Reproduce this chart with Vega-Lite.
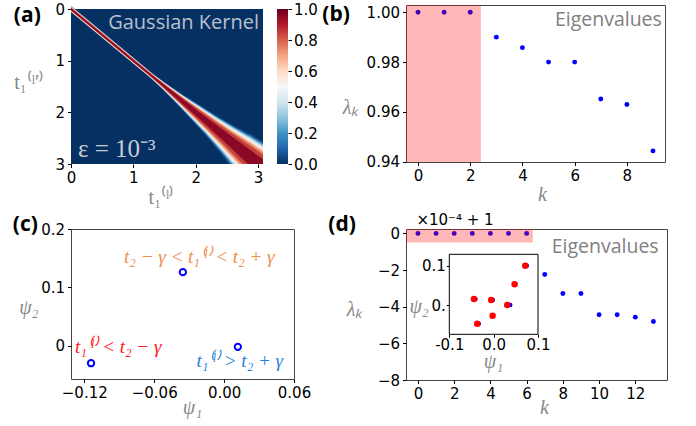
{
"$schema":"https://vega.github.io/schema/vega-lite/v6.json",
"background":"white",
"padding":{"left":12,"top":2,"right":5,"bottom":5},
"config":{
 "view":{"stroke":"#444","strokeWidth":1},
 "axis":{"labelFont":"DejaVu Sans","labelFontSize":15,"labelColor":"#000","labelPadding":3,"labelFlush":false,"labelOverlap":false,"labelBound":false,"tickColor":"#000","tickSize":3.5,"tickWidth":1,"domain":false,"grid":false,"titleFont":"Liberation Serif","titleFontStyle":"italic","titleFontWeight":"normal","titleFontSize":20,"titleColor":"#888888"}
},
"columns":2,
"spacing":{"row":65,"column":112},
"bounds":"flush",
"concat":[
 {"width":192,"height":159,"view":{"stroke":null},
  "resolve":{"scale":{"x":"independent","y":"independent"},"axis":{"x":"independent","y":"independent"}},
  "layer":[
   {"data":{"values":[{}]},"mark":{"type":"rect","fill":"#053061"},
    "encoding":{
     "x":{"datum":0,"type":"quantitative","scale":{"domain":[0,3.08],"nice":false,"zero":false},"axis":{"orient":"bottom","values":[0,1,2,3],"format":"d","title":"t₁⁽ˡ⁾","titleFontStyle":"normal","titleX":90,"titleY":39,"titleBaseline":"alphabetic"}},
     "x2":{"datum":3.08},
     "y":{"datum":0,"type":"quantitative","scale":{"domain":[0,3],"range":[4,159],"nice":false,"zero":false},"axis":{"orient":"left","values":[0,1,2,3],"format":"d","title":"t₁⁽ˡ′⁾","titleFontStyle":"normal","titleAngle":0,"titleAlign":"right","titleBaseline":"middle","titleX":-27,"titleY":77}},
     "y2":{"datum":3}
    }},
   {"data":{"values":[
    {"t":0,"v":0.05,"w":4.9},{"t":1.3,"v":0.05,"w":4.9},{"t":1.5,"v":0.05,"w":7.0},{"t":1.75,"v":0.05,"w":11.2},{"t":2,"v":0.05,"w":16.8},{"t":2.25,"v":0.05,"w":22.4},{"t":2.5,"v":0.05,"w":29.4},{"t":2.75,"v":0.05,"w":37.8},{"t":3,"v":0.05,"w":44.8},{"t":3.15,"v":0.05,"w":49.0},
    {"t":0,"v":0.15,"w":4.6},{"t":1.3,"v":0.15,"w":4.6},{"t":1.5,"v":0.15,"w":6.5},{"t":1.75,"v":0.15,"w":10.4},{"t":2,"v":0.15,"w":15.6},{"t":2.25,"v":0.15,"w":20.8},{"t":2.5,"v":0.15,"w":27.3},{"t":2.75,"v":0.15,"w":35.1},{"t":3,"v":0.15,"w":41.6},{"t":3.15,"v":0.15,"w":45.5},
    {"t":0,"v":0.25,"w":4.3},{"t":1.3,"v":0.25,"w":4.3},{"t":1.5,"v":0.25,"w":6.1},{"t":1.75,"v":0.25,"w":9.8},{"t":2,"v":0.25,"w":14.6},{"t":2.25,"v":0.25,"w":19.5},{"t":2.5,"v":0.25,"w":25.6},{"t":2.75,"v":0.25,"w":32.9},{"t":3,"v":0.25,"w":39.0},{"t":3.15,"v":0.25,"w":42.7},
    {"t":0,"v":0.35,"w":4.0},{"t":1.3,"v":0.35,"w":4.0},{"t":1.5,"v":0.35,"w":5.8},{"t":1.75,"v":0.35,"w":9.2},{"t":2,"v":0.35,"w":13.8},{"t":2.25,"v":0.35,"w":18.4},{"t":2.5,"v":0.35,"w":24.2},{"t":2.75,"v":0.35,"w":31.1},{"t":3,"v":0.35,"w":36.8},{"t":3.15,"v":0.35,"w":40.3},
    {"t":0,"v":0.45,"w":3.7},{"t":1.3,"v":0.45,"w":3.7},{"t":1.5,"v":0.45,"w":5.4},{"t":1.75,"v":0.45,"w":8.6},{"t":2,"v":0.45,"w":12.8},{"t":2.25,"v":0.45,"w":17.1},{"t":2.5,"v":0.45,"w":22.5},{"t":2.75,"v":0.45,"w":28.9},{"t":3,"v":0.45,"w":34.2},{"t":3.15,"v":0.45,"w":37.5},
    {"t":0,"v":0.55,"w":3.4},{"t":1.3,"v":0.55,"w":3.4},{"t":1.5,"v":0.55,"w":4.9},{"t":1.75,"v":0.55,"w":7.8},{"t":2,"v":0.55,"w":11.8},{"t":2.25,"v":0.55,"w":15.7},{"t":2.5,"v":0.55,"w":20.6},{"t":2.75,"v":0.55,"w":26.5},{"t":3,"v":0.55,"w":31.4},{"t":3.15,"v":0.55,"w":34.3},
    {"t":0,"v":0.65,"w":3.2},{"t":1.3,"v":0.65,"w":3.2},{"t":1.5,"v":0.65,"w":4.5},{"t":1.75,"v":0.65,"w":7.2},{"t":2,"v":0.65,"w":10.8},{"t":2.25,"v":0.65,"w":14.4},{"t":2.5,"v":0.65,"w":18.9},{"t":2.75,"v":0.65,"w":24.3},{"t":3,"v":0.65,"w":28.8},{"t":3.15,"v":0.65,"w":31.5},
    {"t":0,"v":0.75,"w":2.8},{"t":1.3,"v":0.75,"w":2.8},{"t":1.5,"v":0.75,"w":4.0},{"t":1.75,"v":0.75,"w":6.4},{"t":2,"v":0.75,"w":9.6},{"t":2.25,"v":0.75,"w":12.8},{"t":2.5,"v":0.75,"w":16.8},{"t":2.75,"v":0.75,"w":21.6},{"t":3,"v":0.75,"w":25.6},{"t":3.15,"v":0.75,"w":28.0},
    {"t":0,"v":0.85,"w":2.3},{"t":1.3,"v":0.85,"w":2.3},{"t":1.5,"v":0.85,"w":3.3},{"t":1.75,"v":0.85,"w":5.3},{"t":2,"v":0.85,"w":7.9},{"t":2.25,"v":0.85,"w":10.6},{"t":2.5,"v":0.85,"w":13.9},{"t":2.75,"v":0.85,"w":17.8},{"t":3,"v":0.85,"w":21.1},{"t":3.15,"v":0.85,"w":23.1},
    {"t":0,"v":0.95,"w":1.5},{"t":1.3,"v":0.95,"w":1.5},{"t":1.5,"v":0.95,"w":2.1},{"t":1.75,"v":0.95,"w":3.4},{"t":2,"v":0.95,"w":5.0},{"t":2.25,"v":0.95,"w":6.7},{"t":2.5,"v":0.95,"w":8.8},{"t":2.75,"v":0.95,"w":11.3},{"t":3,"v":0.95,"w":13.4},{"t":3.15,"v":0.95,"w":14.7}
   ]},
    "mark":{"type":"trail","clip":true},
    "encoding":{
     "x":{"field":"t","type":"quantitative","scale":{"domain":[0,3.08],"nice":false,"zero":false},"axis":null},
     "y":{"field":"t","type":"quantitative","scale":{"domain":[0,3],"range":[4,159],"nice":false,"zero":false},"axis":null},
     "color":{"field":"v","type":"quantitative","scale":{"domain":[0,0.1,0.2,0.3,0.4,0.5,0.6,0.7,0.8,0.9,1],"range":["#053061","#2166ac","#4393c3","#92c5de","#d1e5f0","#f7f7f7","#fddbc7","#f4a582","#d6604d","#b2182b","#67001f"]},"legend":null},
     "size":{"field":"w","type":"quantitative","scale":{"domain":[0,60],"range":[0,60]},"legend":null},
     "detail":{"field":"v","type":"nominal"}
    }},
   {"data":{"values":[{}]},"mark":{"type":"text","text":"Gaussian Kernel","align":"right","baseline":"alphabetic","font":"Open Sans","fontSize":20,"color":"#b8c0cc"},
    "encoding":{"x":{"datum":3.016,"type":"quantitative","scale":{"domain":[0,3.08],"nice":false,"zero":false},"axis":null},"y":{"datum":0.393,"type":"quantitative","scale":{"domain":[0,3],"range":[4,159],"nice":false,"zero":false},"axis":null}}},
   {"data":{"values":[{}]},"mark":{"type":"text","text":"ε = 10⁻³","align":"left","baseline":"alphabetic","font":"Liberation Serif","fontSize":25,"color":"#c8ccd4"},
    "encoding":{"x":{"datum":0.112,"type":"quantitative","scale":{"domain":[0,3.08],"nice":false,"zero":false},"axis":null},"y":{"datum":2.858,"type":"quantitative","scale":{"domain":[0,3],"range":[4,159],"nice":false,"zero":false},"axis":null}}},
   {"data":{"values":[{}]},"mark":{"type":"text","text":"(a)","align":"center","baseline":"alphabetic","font":"Open Sans","fontWeight":"bold","fontSize":21,"color":"#000"},
    "encoding":{"x":{"datum":-0.701,"type":"quantitative","scale":{"domain":[0,3.08],"nice":false,"zero":false},"axis":null},"y":{"datum":0.252,"type":"quantitative","scale":{"domain":[0,3],"range":[4,159],"nice":false,"zero":false},"axis":null}}},
   {"data":{"values":[{}]},"mark":{"type":"rect","fill":{"gradient":"linear","x1":0,"y1":1,"x2":0,"y2":0,"stops":[{"offset":0,"color":"#053061"},{"offset":0.1,"color":"#2166ac"},{"offset":0.2,"color":"#4393c3"},{"offset":0.3,"color":"#92c5de"},{"offset":0.4,"color":"#d1e5f0"},{"offset":0.5,"color":"#f7f7f7"},{"offset":0.6,"color":"#fddbc7"},{"offset":0.7,"color":"#f4a582"},{"offset":0.8,"color":"#d6604d"},{"offset":0.9,"color":"#b2182b"},{"offset":1,"color":"#67001f"}]}},
    "encoding":{
     "x":{"datum":0,"type":"quantitative","scale":{"domain":[0,1],"range":[206,217],"nice":false,"zero":false},"axis":null},
     "x2":{"datum":1},
     "y":{"datum":0,"type":"quantitative","scale":{"domain":[0,1],"range":[159,4],"nice":false,"zero":false},"axis":{"orient":"right","offset":25,"values":[0,0.2,0.4,0.6,0.8,1],"format":".1f","title":null,"labelPadding":2}},
     "y2":{"datum":1}
    }}
  ]},
 {"width":259,"height":157,
  "layer":[
   {"data":{"values":[{"k":0,"lam":1.0},{"k":1,"lam":1.0},{"k":2,"lam":1.0},{"k":3,"lam":0.990},{"k":4,"lam":0.9858},{"k":5,"lam":0.980},{"k":6,"lam":0.980},{"k":7,"lam":0.9652},{"k":8,"lam":0.963},{"k":9,"lam":0.9444}]},
    "mark":{"type":"point","filled":true,"size":24,"color":"#0000ff","opacity":1},
    "encoding":{
     "x":{"field":"k","type":"quantitative","scale":{"domain":[-0.46,9.46],"nice":false,"zero":false},"axis":{"values":[0,2,4,6,8],"format":"d","title":"k","titleX":136,"titleY":38,"titleBaseline":"alphabetic"}},
     "y":{"field":"lam","type":"quantitative","scale":{"domain":[0.93995,1.0029],"nice":false,"zero":false},"axis":{"values":[0.94,0.96,0.98,1.0],"format":".2f","labelOverlap":false,"title":"λₖ","titleAngle":0,"titleAlign":"right","titleBaseline":"middle","titleX":-48,"titleY":102}}
    }},
   {"data":{"values":[{}]},"mark":{"type":"rect","fill":"#ff0000","opacity":0.28},
    "encoding":{"x":{"datum":-0.46,"type":"quantitative","scale":{"domain":[-0.46,9.46],"nice":false,"zero":false}},"x2":{"datum":2.41},"y":{"datum":0.93995,"type":"quantitative","scale":{"domain":[0.93995,1.0029],"nice":false,"zero":false}},"y2":{"datum":1.0029}}},
   {"data":{"values":[{}]},"mark":{"type":"text","text":"Eigenvalues","align":"right","baseline":"alphabetic","font":"Open Sans","fontSize":19.5,"color":"#808080"},
    "encoding":{"x":{"datum":9.34,"type":"quantitative","scale":{"domain":[-0.46,9.46],"nice":false,"zero":false}},"y":{"datum":0.9945,"type":"quantitative","scale":{"domain":[0.93995,1.0029],"nice":false,"zero":false}}}},
   {"data":{"values":[{}]},"mark":{"type":"text","text":"(b)","align":"center","baseline":"alphabetic","font":"Open Sans","fontWeight":"bold","fontSize":21,"color":"#000"},
    "encoding":{"x":{"datum":-3.14,"type":"quantitative","scale":{"domain":[-0.46,9.46],"nice":false,"zero":false}},"y":{"datum":0.9965,"type":"quantitative","scale":{"domain":[0.93995,1.0029],"nice":false,"zero":false}}}}
  ]},
 {"width":223,"height":150,
  "layer":[
   {"data":{"values":[{"p1":-0.1142,"p2":-0.0303},{"p1":-0.0354,"p2":0.1259},{"p1":0.0118,"p2":-0.0022}]},
    "mark":{"type":"point","filled":true,"fill":"#ffffff","stroke":"#0000ff","strokeWidth":2,"size":40,"opacity":1},
    "encoding":{
     "x":{"field":"p1","type":"quantitative","scale":{"domain":[-0.1314,0.06],"nice":false,"zero":false},"axis":{"values":[-0.12,-0.06,0,0.06],"format":".2f","title":"ψ₁","titleX":121,"titleY":34,"titleBaseline":"alphabetic"}},
     "y":{"field":"p2","type":"quantitative","scale":{"domain":[-0.0574,0.2],"nice":false,"zero":false},"axis":{"values":[0,0.1,0.2],"labelExpr":"datum.value == 0 ? '0' : format(datum.value, '.1f')","title":"ψ₂","titleAngle":0,"titleAlign":"right","titleBaseline":"middle","titleX":-33,"titleY":78}}
    }},
   {"data":{"values":[{}]},"mark":{"type":"text","text":"t₂ − γ < t₁⁽ˡ⁾ < t₂ + γ","align":"center","baseline":"alphabetic","font":"Liberation Serif","fontStyle":"italic","fontSize":19,"color":"#f28c4a"},
    "encoding":{"x":{"datum":-0.0213,"type":"quantitative","scale":{"domain":[-0.1314,0.06],"nice":false,"zero":false}},"y":{"datum":0.1417,"type":"quantitative","scale":{"domain":[-0.0574,0.2],"nice":false,"zero":false}}}},
   {"data":{"values":[{}]},"mark":{"type":"text","text":"t₁⁽ˡ⁾ < t₂ − γ","align":"center","baseline":"alphabetic","font":"Liberation Serif","fontStyle":"italic","fontSize":19,"color":"#ff1a1a"},
    "encoding":{"x":{"datum":-0.0909,"type":"quantitative","scale":{"domain":[-0.1314,0.06],"nice":false,"zero":false}},"y":{"datum":-0.0128,"type":"quantitative","scale":{"domain":[-0.0574,0.2],"nice":false,"zero":false}}}},
   {"data":{"values":[{}]},"mark":{"type":"text","text":"t₁⁽ˡ⁾ > t₂ + γ","align":"center","baseline":"alphabetic","font":"Liberation Serif","fontStyle":"italic","fontSize":19,"color":"#1f84d6"},
    "encoding":{"x":{"datum":0.0135,"type":"quantitative","scale":{"domain":[-0.1314,0.06],"nice":false,"zero":false}},"y":{"datum":-0.0368,"type":"quantitative","scale":{"domain":[-0.0574,0.2],"nice":false,"zero":false}}}},
   {"data":{"values":[{}]},"mark":{"type":"text","text":"(c)","align":"center","baseline":"alphabetic","font":"Open Sans","fontWeight":"bold","fontSize":21,"color":"#000"},
    "encoding":{"x":{"datum":-0.1706,"type":"quantitative","scale":{"domain":[-0.1314,0.06],"nice":false,"zero":false}},"y":{"datum":0.1966,"type":"quantitative","scale":{"domain":[-0.0574,0.2],"nice":false,"zero":false}}}}
  ]},
 {"width":261,"height":151,
  "resolve":{"scale":{"x":"independent","y":"independent"},"axis":{"x":"independent","y":"independent"}},
  "layer":[
    {"data":{"values":[{"k":0,"lam":0},{"k":1,"lam":0},{"k":2,"lam":0},{"k":3,"lam":0},{"k":4,"lam":0},{"k":5,"lam":0},{"k":6,"lam":0},{"k":7,"lam":-2.24},{"k":8,"lam":-3.28},{"k":9,"lam":-3.28},{"k":10,"lam":-4.44},{"k":11,"lam":-4.44},{"k":12,"lam":-4.57},{"k":13,"lam":-4.81}]},
     "mark":{"type":"point","filled":true,"size":24,"color":"#0000ff","opacity":1},
     "encoding":{
      "x":{"field":"k","type":"quantitative","scale":{"domain":[-0.66,13.75],"nice":false,"zero":false},"axis":{"orient":"bottom","values":[0,2,4,6,8,10,12],"format":"d","labelOverlap":false,"title":"k","titleX":138,"titleY":33,"titleBaseline":"alphabetic"}},
      "y":{"field":"lam","type":"quantitative","scale":{"domain":[-8,0.24],"nice":false,"zero":false},"axis":{"orient":"left","values":[-8,-6,-4,-2,0],"format":"d","labelOverlap":false,"title":"λₖ","titleAngle":0,"titleAlign":"right","titleBaseline":"middle","titleX":-44,"titleY":80}}
     }},
    {"data":{"values":[{}]},"mark":{"type":"rect","fill":"#ff0000","opacity":0.28},
     "encoding":{"x":{"datum":-0.66,"type":"quantitative","scale":{"domain":[-0.66,13.75],"nice":false,"zero":false},"axis":null},"x2":{"datum":6.34},"y":{"datum":-0.49,"type":"quantitative","scale":{"domain":[-8,0.24],"nice":false,"zero":false},"axis":null},"y2":{"datum":0.24}}},
    {"data":{"values":[{}]},"mark":{"type":"text","text":"Eigenvalues","align":"right","baseline":"alphabetic","font":"Open Sans","fontSize":19.5,"color":"#808080"},
     "encoding":{"x":{"datum":13.29,"type":"quantitative","scale":{"domain":[-0.66,13.75],"nice":false,"zero":false},"axis":null},"y":{"datum":-1.086,"type":"quantitative","scale":{"domain":[-8,0.24],"nice":false,"zero":false},"axis":null}}},
    {"data":{"values":[{}]},"mark":{"type":"text","text":"×10⁻⁴ + 1","align":"center","baseline":"alphabetic","font":"DejaVu Sans","fontSize":15,"color":"#000"},
     "encoding":{"x":{"datum":2.046,"type":"quantitative","scale":{"domain":[-0.66,13.75],"nice":false,"zero":false},"axis":null},"y":{"datum":0.458,"type":"quantitative","scale":{"domain":[-8,0.24],"nice":false,"zero":false},"axis":null}}},
    {"data":{"values":[{}]},"mark":{"type":"text","text":"(d)","align":"center","baseline":"alphabetic","font":"Open Sans","fontWeight":"bold","fontSize":21,"color":"#000"},
     "encoding":{"x":{"datum":-4.19,"type":"quantitative","scale":{"domain":[-0.66,13.75],"nice":false,"zero":false},"axis":null},"y":{"datum":0.131,"type":"quantitative","scale":{"domain":[-8,0.24],"nice":false,"zero":false},"axis":null}}},
    {"data":{"values":[{}]},"mark":{"type":"rect","fill":"#ffffff","stroke":"#000000","strokeWidth":1},
     "encoding":{
      "x":{"datum":-0.1,"type":"quantitative","scale":{"domain":[-0.1,0.1],"range":[43.3,132],"nice":false,"zero":false},"axis":{"orient":"bottom","offset":-45.7,"values":[-0.1,0,0.1],"labelExpr":"datum.value < 0 ? '-0.1' : format(datum.value, '.1f')","tickSize":3,"labelPadding":0,"labelOverlap":false,"title":"ψ₁","titleX":87,"titleY":33,"titleBaseline":"alphabetic"}},
      "x2":{"datum":0.1},
      "y":{"datum":-0.0745,"type":"quantitative","scale":{"domain":[-0.0745,0.129],"range":[105.3,25.3],"nice":false,"zero":false},"axis":{"orient":"left","offset":-43.3,"values":[0,0.1],"labelExpr":"datum.value > 0.05 ? '0.1' : '0.'","tickSize":3,"labelPadding":1,"labelOverlap":false,"title":"ψ₂","titleAngle":0,"titleAlign":"right","titleBaseline":"middle","titleX":-21,"titleY":77}},
      "y2":{"datum":0.129}
     }},
    {"data":{"values":[{"p1":0.0748,"p2":0.100},{"p1":0.0473,"p2":0.0527},{"p1":-0.0409,"p2":0.0153},{"p1":-0.0019,"p2":0.0127},{"p1":0.0375,"p2":0.0},{"p1":-0.0023,"p2":-0.0272},{"p1":-0.0335,"p2":-0.0476}]},
     "mark":{"type":"point","filled":true,"size":20,"color":"#0000ff","opacity":1},
     "encoding":{"x":{"field":"p1","type":"quantitative","scale":{"domain":[-0.1,0.1],"range":[43.3,132],"nice":false,"zero":false},"axis":null},"y":{"field":"p2","type":"quantitative","scale":{"domain":[-0.0745,0.129],"range":[105.3,25.3],"nice":false,"zero":false},"axis":null}}},
    {"data":{"values":[{"p1":0.0713,"p2":0.100},{"p1":0.0473,"p2":0.0527},{"p1":-0.0444,"p2":0.0153},{"p1":-0.0054,"p2":0.0127},{"p1":0.0307,"p2":0.0},{"p1":-0.0023,"p2":-0.0272},{"p1":-0.037,"p2":-0.0476}]},
     "mark":{"type":"point","filled":true,"size":42,"color":"#ff0000","opacity":1},
     "encoding":{"x":{"field":"p1","type":"quantitative","scale":{"domain":[-0.1,0.1],"range":[43.3,132],"nice":false,"zero":false},"axis":null},"y":{"field":"p2","type":"quantitative","scale":{"domain":[-0.0745,0.129],"range":[105.3,25.3],"nice":false,"zero":false},"axis":null}}}
  ]}
]
}
